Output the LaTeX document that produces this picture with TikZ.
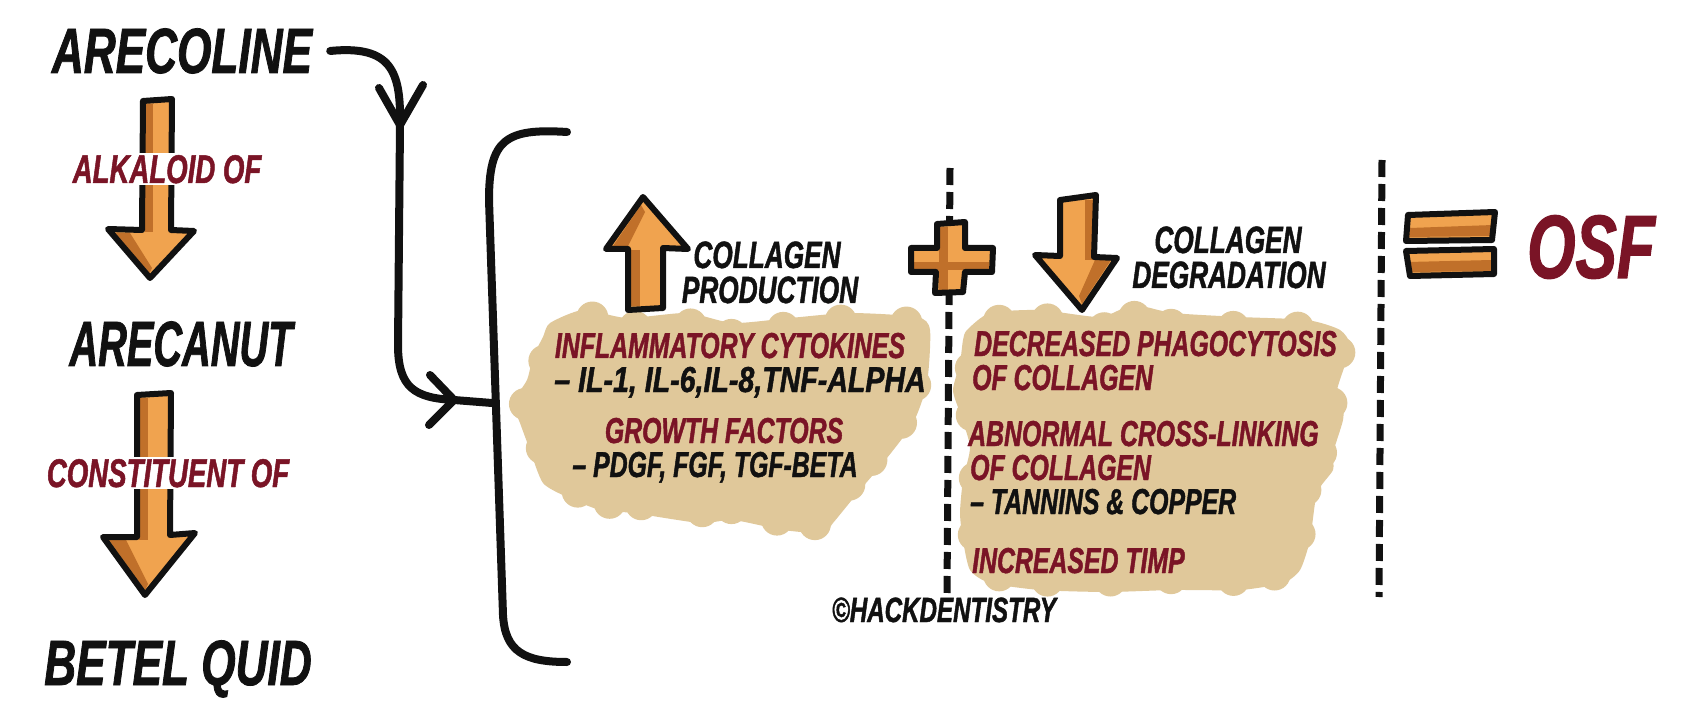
\documentclass[tikz,border=0pt]{standalone}
\usepackage{fontspec}
\usetikzlibrary{calc}
\newfontfamily\comic[FakeStretch=0.69, FakeBold=1.2]{Liberation Sans}
\definecolor{osfred}{HTML}{7A1426}
\definecolor{orng}{HTML}{F0A34F}
\definecolor{dorng}{HTML}{C0702A}
\definecolor{beige}{HTML}{E0C89A}
\definecolor{ink}{HTML}{111111}
\begin{document}
\begin{tikzpicture}[x=1pt,y=-1pt,
  bigtxt/.style={inner sep=0pt, anchor=base, text=ink, font=\comic\bfseries\itshape\fontsize{64}{64}\selectfont},
  redlbl/.style={inner sep=2pt, anchor=base, fill=white, text=osfred, font=\comic\bfseries\itshape\fontsize{40}{40}\selectfont},
  headtxt/.style={inner sep=0pt, anchor=base, text=ink, font=\comic\bfseries\itshape\fontsize{38}{38}\selectfont},
  blobred/.style={inner sep=0pt, anchor=base, text=osfred, font=\comic\bfseries\itshape\fontsize{36}{36}\selectfont},
  blobblk/.style={inner sep=0pt, anchor=base, text=ink, font=\comic\bfseries\itshape\fontsize{36}{36}\selectfont},
  conn/.style={draw=ink, line width=8pt, line cap=round, line join=round},
  dashln/.style={draw=ink, line width=7pt, dash pattern=on 17pt off 7pt},
  blockfill/.style={fill=orng},
  shade/.style={fill=dorng},
  outline/.style={draw=ink, line width=6pt, line join=round, line cap=round},
  blob/.style={fill=beige}
]
\useasboundingbox (0,0) rectangle (1687,727);
\fill[white] (0,0) rectangle (1687,727);

% ---------- beige blobs ----------
\def\blobA{(550,323) (583,310) (627,318) (687,313) (733,323) (790,318) (850,313) (917,317) (930,330) (927,383) (913,423) (883,463) (860,490) (833,523) (823,533) (783,530) (733,520) (700,523) (633,513) (600,510) (567,497) (543,483) (530,450) (520,423) (513,403) (527,380) (533,357) (543,337)}
\def\blobB{(967,330) (990,313) (1040,310) (1100,317) (1133,305) (1173,313) (1240,317) (1307,320) (1340,330) (1350,347) (1337,390) (1343,400) (1343,420) (1333,453) (1333,470) (1317,493) (1310,540) (1300,570) (1283,583) (1240,590) (1173,590) (1107,592) (1040,590) (990,583) (970,570) (963,540) (960,513) (963,480) (970,447) (960,413) (953,390) (960,363) (963,340)}
\path[blob] plot[smooth cycle, tension=0.4] coordinates {\blobA};
\path[blob] plot[smooth cycle, tension=0.4] coordinates {\blobB};
\foreach \px/\py in {583/310,627/318,687/313,733/323,790/318,850/313,917/317,927/383,913/423,883/463,860/490,823/533,783/530,733/520,700/523,633/513,600/510,567/497,530/450,513/403,533/357}
  \fill[beige] ($(\px,\py)!12pt!(720,420)$) circle (16);
\foreach \px/\py in {990/313,1040/310,1100/317,1133/305,1173/313,1240/317,1307/320,1350/347,1343/400,1333/453,1317/493,1310/540,1283/583,1240/590,1173/590,1107/592,1040/590,990/583,963/540,963/480,960/413,960/363}
  \fill[beige] ($(\px,\py)!12pt!(1150,450)$) circle (16);

% ---------- dashed separators ----------
\draw[dashln] (950,168) -- (947,593);
\draw[dashln] (1382,160) -- (1379,597);

% ---------- left column ----------
\node[bigtxt] (ac) at (182,73) {ARECOLINE};
\node[bigtxt] (an) at (181,366) {\scalebox{0.9}[1]{ARECANUT}};
\node[bigtxt] (bq) at (178,685) {BETEL QUID};

% arrow 1
\path[blockfill] (143,101) -- (172,99) -- (171,230) -- (194,231) -- (150,278) -- (108,229) -- (142,230) -- cycle;
\path[shade] (145,104) rectangle (153,232);
\path[shade] (114,233) -- (130,233) -- (152,268) -- (149,274) -- cycle;
\draw[outline] (143,101) -- (172,99) -- (171,230) -- (194,231) -- (150,278) -- (108,229) -- (142,230) -- cycle;
\node[redlbl] (l1) at (167,183) {ALKALOID OF};

% arrow 2
\path[blockfill] (137,395) -- (171,393) -- (170,535) -- (195,533) -- (145,595) -- (103,537) -- (137,537) -- cycle;
\path[shade] (139,398) rectangle (148,540);
\path[shade] (109,540) -- (126,540) -- (148,584) -- (145,590) -- cycle;
\draw[outline] (137,395) -- (171,393) -- (170,535) -- (195,533) -- (145,595) -- (103,537) -- (137,537) -- cycle;
\node[redlbl] (l2) at (168,487) {CONSTITUENT OF};

% ---------- connector and bracket ----------
\coordinate (c1) at (400,125);
\coordinate (c2) at (454,400);
\coordinate (bk) at (492,403);
\coordinate (bt) at (567,132);
\coordinate (bb) at (567,662);
\draw[conn] ([xshift=18pt]ac.east) .. controls (392,45) and (401,72) .. (c1) -- (398,345) .. controls (398,388) and (415,398) .. (c2) -- (bk);
\draw[conn] ([shift={(-21,-37)}]c1) -- (c1) -- ([shift={(23,-40)}]c1);
\draw[conn] ([shift={(-24,-25)}]c2) -- (c2) -- ([shift={(-25,25)}]c2);
\draw[conn] (bt) .. controls (505,128) and (489,140) .. (489,200) -- (503,615) .. controls (505,652) and (525,662) .. (bb);

% ---------- collagen production ----------
\path[blockfill] (628,310) -- (663,308) -- (663,248) -- (688,249) -- (643,197) -- (606,249) -- (628,249) -- cycle;
\path[shade] (631,250) rectangle (640,306);
\path[shade] (613,246) -- (628,246) -- (645,212) -- (641,205) -- cycle;
\draw[outline] (628,310) -- (663,308) -- (663,248) -- (688,249) -- (643,197) -- (606,249) -- (628,249) -- cycle;
\node[headtxt] (cp1) at (767,268) {COLLAGEN};
\node[headtxt] (cp2) at (770,303) {PRODUCTION};

% plus
\path[blockfill] (937,224) -- (965,222) -- (965,248) -- (993,248) -- (992,272) -- (965,272) -- (963,292) -- (935,293) -- (936,272) -- (911,272) -- (911,248) -- (937,248) -- cycle;
\path[shade] (939,227) rectangle (948,290);
\path[shade] (914,262) rectangle (989,270);
\draw[outline] (937,224) -- (965,222) -- (965,248) -- (993,248) -- (992,272) -- (965,272) -- (963,292) -- (935,293) -- (936,272) -- (911,272) -- (911,248) -- (937,248) -- cycle;

% ---------- collagen degradation ----------
\path[blockfill] (1060,200) -- (1096,195) -- (1094,257) -- (1117,258) -- (1082,310) -- (1035,255) -- (1060,256) -- cycle;
\path[shade] (1085,200) rectangle (1093,260);
\path[shade] (1111,260) -- (1095,260) -- (1079,296) -- (1082,304) -- cycle;
\draw[outline] (1060,200) -- (1096,195) -- (1094,257) -- (1117,258) -- (1082,310) -- (1035,255) -- (1060,256) -- cycle;
\node[headtxt] (cd1) at (1228,253) {COLLAGEN};
\node[headtxt] (cd2) at (1229,288) {DEGRADATION};

% ---------- blob 1 text ----------
\node[blobred] (t1) at (730,358) {INFLAMMATORY CYTOKINES};
\node[blobblk] (t2) at (740,392) {\scalebox{1.15}[1]{– IL-1, IL-6,IL-8,TNF-ALPHA}};
\node[blobred] (t3) at (724,443) {GROWTH FACTORS};
\node[blobblk] (t4) at (715,477) {– PDGF, FGF, TGF-BETA};

% ---------- blob 2 text ----------
\node[blobred, anchor=base west] (u1) at (974,356) {DECREASED PHAGOCYTOSIS};
\node[blobred, anchor=base west] (u2) at (972,390) {OF COLLAGEN};
\node[blobred, anchor=base west] (u3) at (968,446) {ABNORMAL CROSS-LINKING};
\node[blobred, anchor=base west] (u4) at (970,480) {OF COLLAGEN};
\node[blobblk, anchor=base west] (u5) at (970,514) {– TANNINS \& COPPER};
\node[blobred, anchor=base west] (u6) at (972,573) {INCREASED TIMP};

% ---------- equals and OSF ----------
\path[blockfill] (1408,215) -- (1495,212) -- (1492,240) -- (1406,241) -- cycle;
\path[shade] (1410,228) -- (1493,225) -- (1492,236) -- (1409,237) -- cycle;
\draw[outline] (1408,215) -- (1495,212) -- (1492,240) -- (1406,241) -- cycle;
\path[blockfill] (1406,251) -- (1494,249) -- (1494,274) -- (1410,276) -- cycle;
\path[shade] (1408,262) -- (1492,260) -- (1492,271) -- (1410,272) -- cycle;
\draw[outline] (1406,251) -- (1494,249) -- (1494,274) -- (1410,276) -- cycle;
\node[inner sep=0pt, anchor=base, text=osfred, font=\comic\bfseries\itshape\fontsize{90}{90}\selectfont] (osf) at (1591,278) {OSF};

% ---------- credit ----------
\node[inner sep=0pt, anchor=base, text=ink, font=\comic\bfseries\itshape\fontsize{35}{35}\selectfont] (cr) at (944,622) {©HACKDENTISTRY};
\end{tikzpicture}
\end{document}
